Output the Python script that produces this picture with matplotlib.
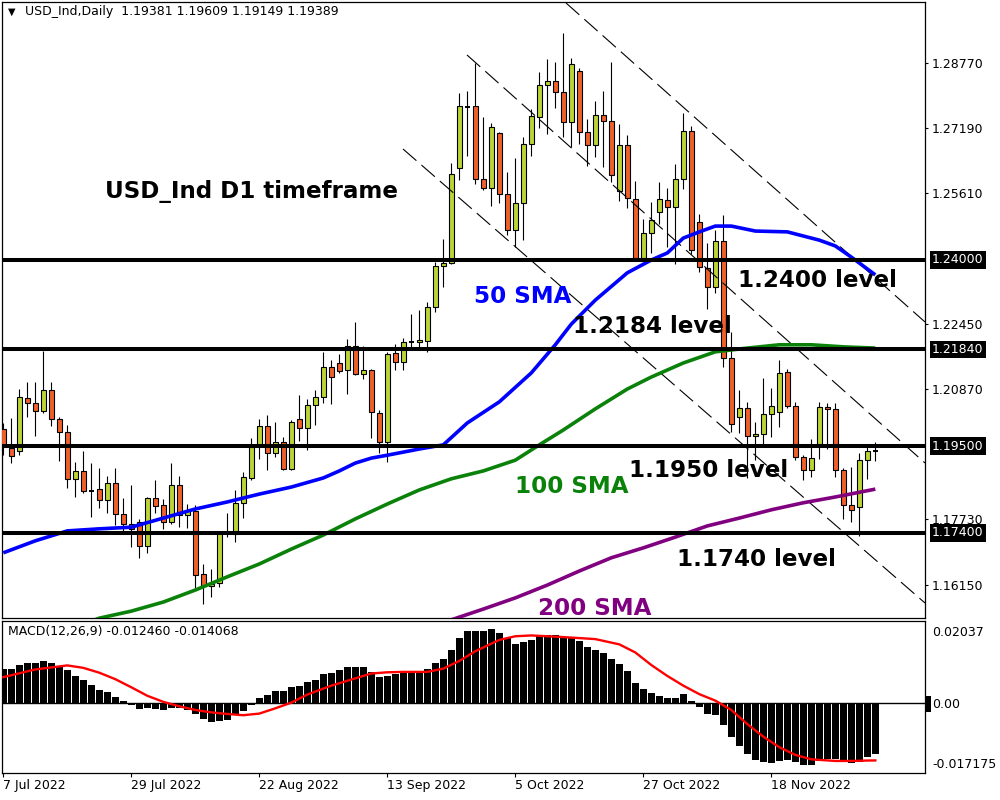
import matplotlib
matplotlib.use("Agg")
import matplotlib.pyplot as plt

plt.rcParams['font.family'] = ['DejaVu Sans']

# ---------------- data ----------------
opens = [1.1991, 1.1945, 1.1938, 1.2066, 1.2054, 1.2035, 1.2086, 1.2016, 1.1984, 1.1871,
         1.1890, 1.1843, 1.1846, 1.1820, 1.1861, 1.1786, 1.1762, 1.1767, 1.1709, 1.1825,
         1.1808, 1.1767, 1.1856, 1.1783, 1.1793, 1.1641, 1.1612, 1.1619, 1.1738, 1.1738,
         1.1812, 1.1873, 1.1953, 1.1999, 1.1933, 1.1960, 1.1895, 1.2016, 1.1994, 1.2049,
         1.2069, 1.2141, 1.2151, 1.2134, 1.2192, 1.2124, 1.2134, 1.2030, 1.1960, 1.2175,
         1.2153, 1.2202, 1.2202, 1.2204, 1.2286, 1.2385, 1.2393, 1.2622, 1.2770, 1.2772,
         1.2596, 1.2574, 1.2707, 1.2560, 1.2473, 1.2538, 1.2680, 1.2746, 1.2823, 1.2833,
         1.2806, 1.2734, 1.2857, 1.2710, 1.2678, 1.2751, 1.2736, 1.2567, 1.2678, 1.2547,
         1.2405, 1.2465, 1.2516, 1.2545, 1.2528, 1.2596, 1.2712, 1.2492, 1.2381, 1.2335,
         1.2446, 1.2163, 1.2020, 1.2042, 1.1974, 1.1979, 1.2028, 1.2032, 1.2129, 1.2047,
         1.1924, 1.1892, 1.1955, 1.2045, 1.2040, 1.1892, 1.1808, 1.1803, 1.1916, 1.19381]
highs = [1.2006, 1.2018, 1.2088, 1.2105, 1.2105, 1.2180, 1.2105, 1.2020, 1.2001, 1.1912,
         1.1938, 1.1909, 1.1897, 1.1878, 1.1897, 1.1825, 1.1856, 1.1774, 1.1827, 1.1868,
         1.1822, 1.1909, 1.1878, 1.1810, 1.1808, 1.1665, 1.1653, 1.1742, 1.1788, 1.1844,
         1.1887, 1.1970, 1.2016, 1.2025, 1.2008, 1.1972, 1.2013, 1.2074, 1.2064, 1.2086,
         1.2178, 1.2158, 1.2173, 1.2209, 1.2250, 1.2192, 1.2136, 1.2037, 1.2178, 1.2197,
         1.2211, 1.2269, 1.2279, 1.2298, 1.2395, 1.2451, 1.2635, 1.2804, 1.2809, 1.2876,
         1.2746, 1.2731, 1.2710, 1.2613, 1.2647, 1.2697, 1.2765, 1.2855, 1.2886, 1.2879,
         1.2949, 1.2888, 1.2864, 1.2741, 1.2784, 1.2809, 1.2879, 1.2729, 1.2702, 1.2591,
         1.2499, 1.2540, 1.2589, 1.2574, 1.2632, 1.2755, 1.2724, 1.2511, 1.2441, 1.2473,
         1.2509, 1.2226, 1.2086, 1.2057, 1.2008, 1.2115, 1.2090, 1.2158, 1.2136, 1.2057,
         1.1928, 1.1967, 1.2057, 1.2054, 1.2054, 1.1897, 1.1899, 1.1933, 1.1948, 1.19609]
lows = [1.1928, 1.1909, 1.1928, 1.2020, 1.1974, 1.2030, 1.1999, 1.1914, 1.1849, 1.1827,
        1.1837, 1.1779, 1.1800, 1.1788, 1.1759, 1.1740, 1.1706, 1.1680, 1.1692, 1.1788,
        1.1750, 1.1762, 1.1754, 1.1752, 1.1602, 1.1568, 1.1585, 1.1609, 1.1730, 1.1718,
        1.1776, 1.1868, 1.1919, 1.1892, 1.1924, 1.1892, 1.1892, 1.1962, 1.1941, 1.2001,
        1.2054, 1.2052, 1.2127, 1.2076, 1.2122, 1.2112, 1.1970, 1.1933, 1.1912, 1.2134,
        1.2134, 1.2190, 1.2187, 1.2178, 1.2274, 1.2335, 1.2390, 1.2593, 1.2651, 1.2584,
        1.2569, 1.2531, 1.2538, 1.2460, 1.2431, 1.2448, 1.2651, 1.2719, 1.2705, 1.2768,
        1.2697, 1.2673, 1.2680, 1.2627, 1.2649, 1.2625, 1.2589, 1.2543, 1.2526, 1.2402,
        1.2402, 1.2417, 1.2487, 1.2431, 1.2390, 1.2572, 1.2415, 1.2371, 1.2282, 1.2320,
        1.2141, 1.1984, 1.1982, 1.1873, 1.1916, 1.1953, 1.1972, 1.1996, 1.2042, 1.1916,
        1.1868, 1.1875, 1.1919, 1.1943, 1.1875, 1.1774, 1.1767, 1.1733, 1.1870, 1.19149]
closes = [1.1950, 1.1926, 1.2069, 1.2054, 1.2035, 1.2086, 1.2016, 1.1984, 1.1871, 1.1890,
          1.1842, 1.1842, 1.1820, 1.1861, 1.1786, 1.1762, 1.1750, 1.1709, 1.1825, 1.1805,
          1.1767, 1.1856, 1.1783, 1.1795, 1.1638, 1.1612, 1.1617, 1.1740, 1.1738, 1.1812,
          1.1875, 1.1948, 1.1999, 1.1933, 1.1960, 1.1895, 1.2008, 1.1994, 1.2049, 1.2069,
          1.2141, 1.2117, 1.2132, 1.2192, 1.2124, 1.2134, 1.2032, 1.1960, 1.2173, 1.2153,
          1.2202, 1.2202, 1.2207, 1.2286, 1.2385, 1.2393, 1.2608, 1.2772, 1.2770, 1.2596,
          1.2574, 1.2722, 1.2560, 1.2473, 1.2538, 1.2680, 1.2748, 1.2823, 1.2833, 1.2806,
          1.2734, 1.2874, 1.2710, 1.2678, 1.2751, 1.2736, 1.2606, 1.2678, 1.2550, 1.2405,
          1.2465, 1.2497, 1.2547, 1.2528, 1.2596, 1.2712, 1.2424, 1.2383, 1.2335, 1.2446,
          1.2163, 1.2003, 1.2042, 1.1974, 1.1979, 1.2028, 1.2047, 1.2127, 1.2047, 1.1924,
          1.1892, 1.1921, 1.2045, 1.2040, 1.1892, 1.1808, 1.1795, 1.1916, 1.1938, 1.19389]

sma50_idx = [0, 4, 8, 12, 16, 20, 24, 28, 32, 36, 40, 42, 44, 46, 48, 52, 55, 58, 62, 66,
             69, 71, 74, 78, 81, 83, 85, 87, 89, 91, 94, 98, 102, 104, 106, 109]
sma50_val = [1.1692, 1.1721, 1.1745, 1.1750, 1.1754, 1.1776, 1.1798, 1.1815, 1.1834, 1.1851,
             1.1873, 1.1890, 1.1909, 1.1921, 1.1928, 1.1943, 1.1953, 1.2006, 1.2057, 1.2127,
             1.2195, 1.2245, 1.2303, 1.2369, 1.2400, 1.2417, 1.2453, 1.2468, 1.2482, 1.2482,
             1.2470, 1.2468, 1.2448, 1.2434, 1.2407, 1.2364]
sma100_idx = [11, 12, 16, 20, 24, 28, 32, 36, 40, 44, 48, 52, 56, 60, 64, 67, 70, 74, 78, 81,
              85, 89, 93, 97, 101, 105, 109]
sma100_val = [1.1527, 1.1534, 1.1551, 1.1573, 1.1602, 1.1634, 1.1665, 1.1701, 1.1735, 1.1774,
              1.1810, 1.1844, 1.1871, 1.1890, 1.1916, 1.1953, 1.1989, 1.2040, 1.2088, 1.2117,
              1.2151, 1.2178, 1.2187, 1.2195, 1.2195, 1.2190, 1.2187]
sma200_idx = [56, 60, 64, 68, 72, 76, 80, 84, 88, 92, 96, 100, 104, 109]
sma200_val = [1.1530, 1.1556, 1.1583, 1.1614, 1.1648, 1.1680, 1.1704, 1.1730, 1.1757, 1.1776,
              1.1796, 1.1813, 1.1827, 1.1846]

macd_hist = [0.0084, 0.0084, 0.0094, 0.0099, 0.0100, 0.0106, 0.0101, 0.0092, 0.0082, 0.0069,
             0.0057, 0.0045, 0.0034, 0.0029, 0.0017, 0.0007, -0.0004, -0.0014, -0.0012, -0.0014,
             -0.0016, -0.0011, -0.0012, -0.0015, -0.0026, -0.0039, -0.0046, -0.0044, -0.0040, -0.0025,
             -0.0019, -0.0004, 0.0014, 0.0022, 0.0030, 0.0030, 0.0040, 0.0044, 0.0052, 0.0059,
             0.0072, 0.0076, 0.0082, 0.0089, 0.0089, 0.0089, 0.0078, 0.0065, 0.0068, 0.0072,
             0.0076, 0.0076, 0.0076, 0.0086, 0.0099, 0.0109, 0.0131, 0.0161, 0.0180, 0.0180,
             0.0179, 0.0185, 0.0175, 0.0162, 0.0148, 0.0151, 0.0158, 0.0170, 0.0170, 0.0170,
             0.0164, 0.0164, 0.0154, 0.0140, 0.0133, 0.0125, 0.0109, 0.0098, 0.0079, 0.0051,
             0.0035, 0.0025, 0.0018, 0.0014, 0.0014, 0.0024, 0.0007, -0.0009, -0.0026, -0.0029,
             -0.0054, -0.0082, -0.0104, -0.0126, -0.0140, -0.0145, -0.0147, -0.0142, -0.0140, -0.0145,
             -0.0151, -0.0153, -0.0142, -0.0136, -0.0138, -0.0140, -0.0147, -0.0145, -0.0133, -0.012460]
signal_idx = [0, 4, 8, 10, 12, 14, 16, 18, 20, 22, 24, 26, 28, 30, 32, 34, 36, 38, 41, 44,
              46, 48, 50, 53, 55, 57, 59, 62, 64, 66, 70, 74, 77, 79, 81, 83, 85, 87, 89, 91,
              93, 95, 97, 99, 101, 104, 106, 108, 109]
signal_val = [0.0065, 0.0084, 0.0094, 0.0088, 0.0076, 0.0060, 0.0040, 0.0019, 0.0004, -0.0007,
              -0.0016, -0.0022, -0.0026, -0.0029, -0.0025, -0.0012, 0.0002, 0.0022, 0.0044, 0.0062,
              0.0074, 0.0077, 0.0078, 0.0078, 0.0086, 0.0105, 0.0129, 0.0157, 0.0166, 0.0168,
              0.0164, 0.0159, 0.0146, 0.0126, 0.0095, 0.0068, 0.0044, 0.0023, 0.0007, -0.0016,
              -0.0051, -0.0082, -0.0108, -0.0127, -0.0138, -0.0142, -0.0142, -0.0141, -0.014068]

levels = [1.2400, 1.2184, 1.1950, 1.1740]
level_labels = ["1.24000", "1.21840", "1.19500", "1.17400"]
price_ticks = [1.16150, 1.17730, 1.20870, 1.22450, 1.25610, 1.27190, 1.28770]
date_idx = [0, 16, 32, 48, 64, 80, 96]
date_labels = ["7 Jul 2022", "29 Jul 2022", "22 Aug 2022", "13 Sep 2022",
               "5 Oct 2022", "27 Oct 2022", "18 Nov 2022"]
channel_lines = [((70.34, 1.30214), (115.21, 1.22501)),
                 ((57.96, 1.28957), (115.21, 1.19092)),
                 ((49.96, 1.26684), (115.21, 1.15707))]

# ---------------- figure ----------------
W, H = 1000, 800
fig = plt.figure(figsize=(10, 8), dpi=100)
fig.patch.set_facecolor('white')

def fx(px):
    return px / W

def fy(py):
    return 1 - py / H

XL = (-0.1625, 115.21)
ax = fig.add_axes([fx(2), fy(618), (925 - 2) / W, (618 - 2) / H])
ax2 = fig.add_axes([fx(2), fy(773), (925 - 2) / W, (773 - 621) / H])

BULL = '#BCD435'
BEAR = '#F0602A'

n = len(opens)
xs = list(range(n))
ax.vlines(xs, lows, highs, color='black', lw=0.8, zorder=2)
bx, bb, bh, bc = [], [], [], []
for i in range(n):
    o, c = opens[i], closes[i]
    if abs(c - o) < 0.00015:
        ax.hlines((o + c) / 2, i - 0.32, i + 0.32, color='black', lw=1.4, zorder=3)
    else:
        bx.append(i)
        bb.append(min(o, c))
        bh.append(abs(c - o))
        bc.append(BULL if c > o else BEAR)
ax.bar(bx, bh, bottom=bb, width=0.55, color=bc, edgecolor='black', linewidth=0.8, zorder=3)

# channel lines
for (x0, y0), (x1, y1) in channel_lines:
    ax.plot([x0, x1], [y0, y1], color='black', lw=0.8, linestyle=(0, (16, 6)), zorder=4)

# moving averages
ax.plot(sma50_idx, sma50_val, color='#0000FF', lw=2.6, zorder=5, solid_capstyle='butt')
ax.plot(sma100_idx, sma100_val, color='#0A820A', lw=2.6, zorder=5, solid_capstyle='butt')
ax.plot(sma200_idx, sma200_val, color='#800080', lw=2.6, zorder=5, solid_capstyle='butt')

# horizontal levels
for lv, lab in zip(levels, level_labels):
    ax.axhline(lv, color='black', lw=2.9, zorder=6)
    ax.annotate(lab, xy=(1, lv), xycoords=ax.get_yaxis_transform(), xytext=(7, 0),
                textcoords='offset pixels', ha='left', va='center', fontsize=9,
                color='white', annotation_clip=False, zorder=10,
                bbox=dict(boxstyle='square,pad=0.18', fc='black', ec='none'))

ax.set_xlim(*XL)
ax.set_ylim(1.15344, 1.30238)
ax.set_xticks([])
ax.yaxis.tick_right()
ax.set_yticks(price_ticks)
ax.set_yticklabels(['%.5f' % t for t in price_ticks])
ax.tick_params(axis='y', length=2.5, width=0.8, labelsize=9, pad=2.5, colors='black')
for s in ax.spines.values():
    s.set_linewidth(0.9)
    s.set_color('black')

# ---------------- MACD ----------------
ax2.bar(xs, macd_hist, width=0.8, color='black', zorder=2)
ax2.plot(signal_idx, signal_val, color='#FF0000', lw=1.7, zorder=3)
ax2.axhline(0, color='black', lw=1.0, zorder=1)
ax2.set_xlim(*XL)
ax2.set_ylim(-0.017175, 0.02037)
ax2.set_yticks([])
ax2.set_xticks(date_idx)
ax2.set_xticklabels(date_labels, ha='left')
ax2.tick_params(axis='x', length=3, width=0.8, labelsize=9, pad=1.5)
for s in ax2.spines.values():
    s.set_linewidth(0.9)
    s.set_color('black')

# right labels of MACD panel
fig.text(fx(932), fy(632), '0.02037', fontsize=9, ha='left', va='center')
fig.text(fx(932), fy(704), '0.00', fontsize=9, ha='left', va='center')
fig.text(fx(932), fy(765), '-0.017175', fontsize=9, ha='left', va='center')
fig.patches.append(plt.Rectangle((fx(926), fy(712)), 5 / W, 16 / H, transform=fig.transFigure,
                                 facecolor='black', edgecolor='none'))

# titles
fig.text(fx(8), fy(12), '\u25BC', fontsize=7, ha='left', va='center')
fig.text(fx(25), fy(12), 'USD_Ind,Daily  1.19381 1.19609 1.19149 1.19389',
         fontsize=9, ha='left', va='center')
fig.text(fx(8), fy(632), 'MACD(12,26,9) -0.012460 -0.014068', fontsize=9,
         ha='left', va='center')

# annotations
ann = [
    ('USD_Ind D1 timeframe', 105, 198, 'black'),
    ('50 SMA', 474, 303, '#0000FF'),
    ('1.2184 level', 573, 333, 'black'),
    ('1.2400 level', 738, 287, 'black'),
    ('1.1950 level', 629, 477, 'black'),
    ('100 SMA', 515, 493, '#0A820A'),
    ('1.1740 level', 677, 566, 'black'),
    ('200 SMA', 538, 615, '#800080'),
]
for txt, px, py, col in ann:
    fig.text(fx(px), fy(py), txt, fontsize=16.6, fontweight='bold', color=col,
             ha='left', va='baseline', zorder=20)

fig.savefig('out.png', dpi=100, facecolor='white')
